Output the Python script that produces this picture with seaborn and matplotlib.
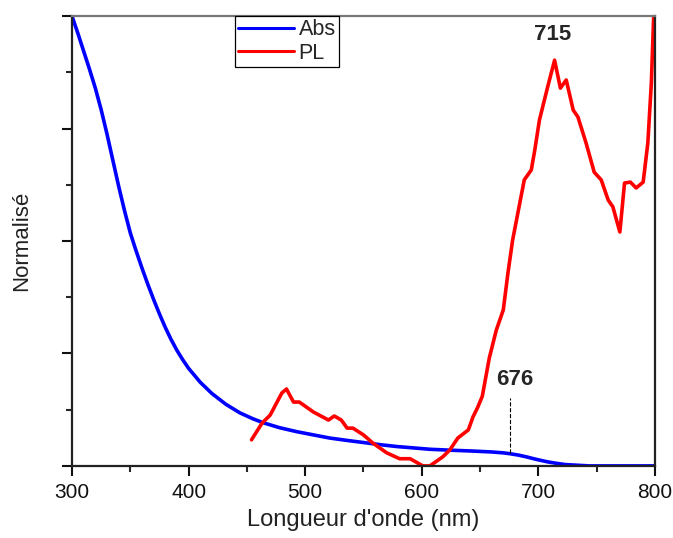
import numpy as np
import pandas as pd
import matplotlib.pyplot as plt
import seaborn as sns
from matplotlib.ticker import MultipleLocator, NullFormatter

# Absorbance (normalised)
abs_nm = [300, 305, 310, 315, 320, 325, 330, 335, 340, 345, 350, 355, 360, 365,
          370, 375, 380, 385, 390, 395, 400, 410, 420, 432, 444, 455, 464, 478, 493,
          507, 521, 535, 550, 565, 579, 593, 607, 624, 644, 660, 670, 676, 683, 690,
          696, 701, 708, 715, 723, 730, 737, 744, 770, 800]
abs_val = [1.0, 0.962, 0.922, 0.882, 0.84, 0.792, 0.738, 0.68, 0.622, 0.568, 0.518,
           0.478, 0.44, 0.404, 0.37, 0.338, 0.308, 0.281, 0.257, 0.236, 0.217, 0.186,
           0.161, 0.137, 0.118, 0.105, 0.096, 0.085, 0.076, 0.069, 0.062, 0.057,
           0.052, 0.047, 0.043, 0.04, 0.037, 0.035, 0.033, 0.031, 0.029, 0.027, 0.024,
           0.02, 0.016, 0.013, 0.009, 0.006, 0.003, 0.002, 0.001, 0.0, 0.0, 0.0]

# Photoluminescence (normalised)
pl_nm = [454, 463, 470, 480, 484, 490, 495, 507, 520, 525, 531, 536, 541, 550, 558,
         570, 581, 590, 601, 607, 618, 624, 631, 640, 644, 648, 652, 658, 664, 670,
         674, 678, 683, 688, 694, 697, 701, 708, 714, 719, 724, 730, 734, 741, 748,
         754, 760, 764, 770, 774, 779, 784, 790, 794, 797, 799, 800]
pl_val = [0.058, 0.095, 0.113, 0.162, 0.171, 0.142, 0.142, 0.12, 0.102, 0.111,
          0.102, 0.084, 0.084, 0.069, 0.051, 0.029, 0.016, 0.016, 0.0, 0.0, 0.02,
          0.035, 0.062, 0.08, 0.109, 0.13, 0.155, 0.24, 0.302, 0.347, 0.429, 0.502,
          0.569, 0.636, 0.658, 0.702, 0.769, 0.842, 0.902, 0.84, 0.858, 0.791, 0.776,
          0.718, 0.653, 0.636, 0.591, 0.576, 0.52, 0.629, 0.631, 0.618, 0.631, 0.718,
          0.851, 0.998, 1.0]

df = pd.concat([
    pd.DataFrame({"nm": abs_nm, "val": abs_val, "serie": "Abs"}),
    pd.DataFrame({"nm": pl_nm, "val": pl_val, "serie": "PL"}),
])

sns.set_style("ticks")
plt.rcParams['font.family'] = ['Liberation Sans', 'DejaVu Sans']

fig, ax = plt.subplots(figsize=(6.73, 5.38), dpi=100)
sns.lineplot(data=df, x="nm", y="val", hue="serie", palette={"Abs": "#0000ff", "PL": "#ff0000"},
             sort=False, estimator=None, linewidth=2.6, ax=ax)

ax.set_xlim(300, 800)
ax.set_ylim(0, 1)
ax.xaxis.set_major_locator(MultipleLocator(100))
ax.xaxis.set_minor_locator(MultipleLocator(50))
ax.yaxis.set_major_locator(MultipleLocator(0.25))
ax.yaxis.set_minor_locator(MultipleLocator(0.125))
ax.yaxis.set_major_formatter(NullFormatter())
ax.tick_params(which='major', direction='out', length=7, width=1.5, labelsize=15,
               colors='#111111', pad=5)
ax.tick_params(which='minor', direction='out', length=4, width=1.5)
for s in ax.spines.values():
    s.set_linewidth(1.6)
    s.set_color('#222222')
ax.spines['top'].set_color('#777777')

ax.set_xlabel("Longueur d'onde (nm)", fontsize=17, color='#222222')
ax.set_ylabel("Normalisé", fontsize=16, color='#222222')
ax.xaxis.set_label_coords(0.5, -0.095)
ax.yaxis.set_label_coords(-0.069, 0.5)

# annotations
ax.text(712, 0.935, "715", fontsize=16, fontweight='bold', ha='center', va='bottom')
ax.text(680, 0.168, "676", fontsize=16, fontweight='bold', ha='center', va='bottom')
ax.plot([676, 676], [0.028, 0.152], ls='--', lw=0.8, color='black')

leg = ax.legend(loc='upper left', bbox_to_anchor=(0.28, 1.0), fontsize=15.5, frameon=True,
                fancybox=False, handlelength=2.6, handletextpad=0.2, borderpad=0.15,
                labelspacing=0.1, borderaxespad=0)
leg.get_frame().set_edgecolor('black')
leg.get_frame().set_linewidth(0.9)
leg.get_frame().set_alpha(1)
for l in leg.get_lines():
    l.set_linewidth(2.2)

plt.subplots_adjust(left=0.107, right=0.973, top=0.97, bottom=0.134)
fig.savefig("out.png", dpi=100)
